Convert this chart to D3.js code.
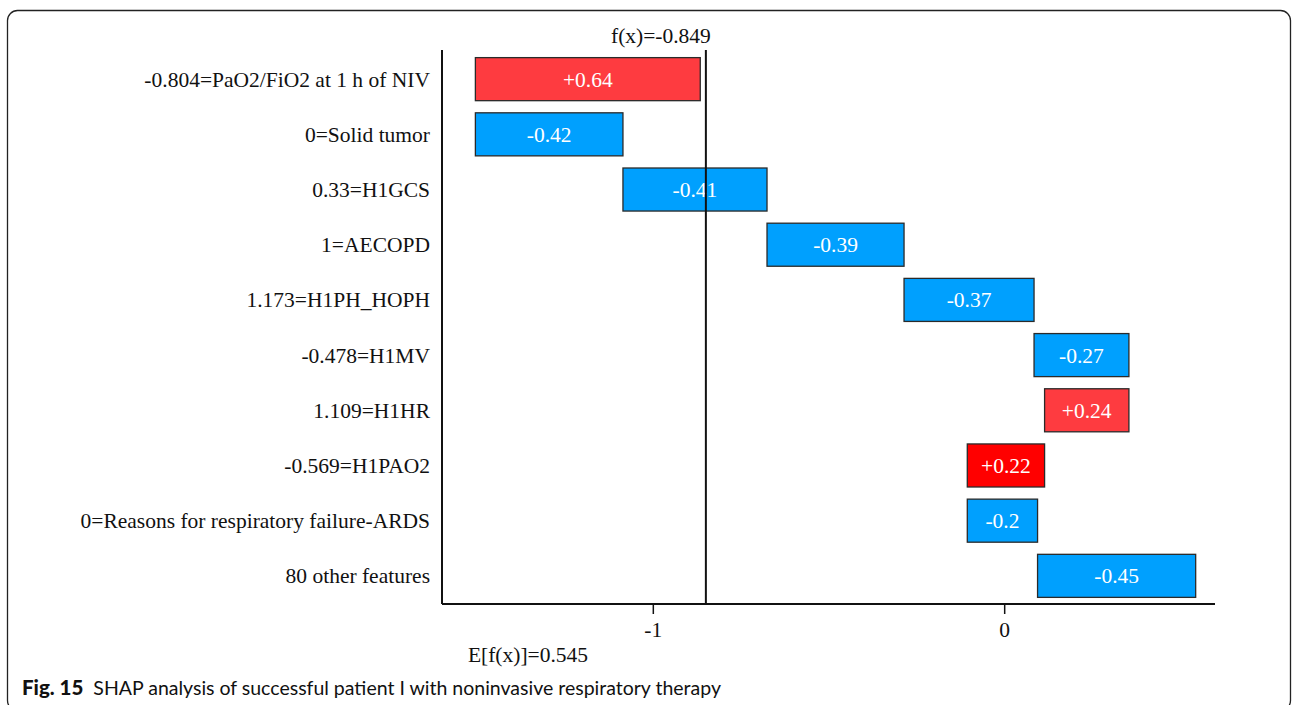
<!DOCTYPE html>
<html>
<head>
<meta charset="utf-8">
<script src="https://cdn.jsdelivr.net/npm/d3@7"></script>
<style>
  html, body { margin: 0; padding: 0; background: #fff; }
  svg { display: block; }
</style>
</head>
<body>
<svg id="chart" width="1292" height="705"></svg>
<script>
// Feature labels, top to bottom
const features = [
  "-0.804=PaO2/FiO2 at 1 h of NIV",
  "0=Solid tumor",
  "0.33=H1GCS",
  "1=AECOPD",
  "1.173=H1PH_HOPH",
  "-0.478=H1MV",
  "1.109=H1HR",
  "-0.569=H1PAO2",
  "0=Reasons for respiratory failure-ARDS",
  "80 other features"
];
// SHAP contribution of each feature (same order)
const shapValues = [0.64, -0.42, -0.41, -0.39, -0.37, -0.27, 0.24, 0.22, -0.2, -0.45];
// Bar fill per feature
const barColors = ["#fe3b40", "#00a0fe", "#00a0fe", "#00a0fe", "#00a0fe", "#00a0fe", "#fe3b40", "#ff0000", "#00a0fe", "#00a0fe"];
const baseValue = 0.545;   // E[f(x)]
const outputValue = -0.849; // f(x)
const xTicks = [-1, 0];

const svg = d3.select("#chart");
const serif = "'Liberation Serif', 'Times New Roman', serif";
const fontSize = 21.5;

// Figure frame
svg.append("rect")
  .attr("x", 7.5).attr("y", 10.5)
  .attr("width", 1283).attr("height", 700)
  .attr("rx", 10).attr("ry", 10)
  .attr("fill", "none").attr("stroke", "#222").attr("stroke-width", 1.3);

const x = d3.scaleLinear().domain([-1.6, 0.6]).range([442, 1215]);
const y = d3.scaleBand().domain(features).range([51, 604])
  .paddingInner(0.22).paddingOuter(0.12);

// Cumulative positions: start at E[f(x)] at the bottom and accumulate upward
const rows = [];
let acc = baseValue;
for (let i = features.length - 1; i >= 0; i--) {
  const start = acc;
  const end = acc + shapValues[i];
  rows[i] = { name: features[i], value: shapValues[i], start, end, color: barColors[i] };
  acc = end;
}

// Bars
const g = svg.append("g");
g.selectAll("rect.bar").data(rows).join("rect")
  .attr("class", "bar")
  .attr("x", d => x(Math.min(d.start, d.end)))
  .attr("y", d => y(d.name))
  .attr("width", d => Math.abs(x(d.end) - x(d.start)))
  .attr("height", y.bandwidth())
  .attr("fill", d => d.color)
  .attr("stroke", "#2a2a2a")
  .attr("stroke-width", 1.3);

// Value labels inside bars
const fmt = v => (v > 0 ? "+" : "") + String(v);
g.selectAll("text.val").data(rows).join("text")
  .attr("class", "val")
  .attr("x", d => (x(d.start) + x(d.end)) / 2)
  .attr("y", d => y(d.name) + y.bandwidth() / 2)
  .attr("dy", "0.35em")
  .attr("text-anchor", "middle")
  .attr("font-family", serif)
  .attr("font-size", fontSize)
  .attr("fill", "#fff")
  .text(d => fmt(d.value));

// Feature names on the left
svg.append("g").selectAll("text").data(features).join("text")
  .attr("x", 430)
  .attr("y", d => y(d) + y.bandwidth() / 2)
  .attr("dy", "0.35em")
  .attr("text-anchor", "end")
  .attr("font-family", serif)
  .attr("font-size", fontSize)
  .attr("fill", "#111")
  .text(d => d);

// Left spine
svg.append("line")
  .attr("x1", 442).attr("x2", 442).attr("y1", 50).attr("y2", 604)
  .attr("stroke", "#111").attr("stroke-width", 2);

// Bottom axis
const xAxis = d3.axisBottom(x).tickValues(xTicks).tickFormat(d => String(d)).tickSize(10).tickPadding(8);
const ax = svg.append("g").attr("transform", "translate(0,604)").call(xAxis);
ax.select(".domain").attr("d", `M${x.range()[0]},0H${x.range()[1]}`).attr("stroke", "#111").attr("stroke-width", 2);
ax.selectAll(".tick line").attr("stroke", "#111").attr("stroke-width", 1.5);
ax.selectAll(".tick text").attr("font-family", serif).attr("font-size", fontSize).attr("fill", "#111");

// f(x) marker line
svg.append("line")
  .attr("x1", x(outputValue)).attr("x2", x(outputValue))
  .attr("y1", 50).attr("y2", 604)
  .attr("stroke", "#111").attr("stroke-width", 2);
svg.append("text")
  .attr("x", x(outputValue) + 5).attr("y", 43)
  .attr("text-anchor", "end")
  .attr("font-family", serif).attr("font-size", fontSize).attr("fill", "#111")
  .text("f(x)=" + outputValue);

svg.append("text")
  .attr("x", 528).attr("y", 662)
  .attr("text-anchor", "middle")
  .attr("font-family", serif).attr("font-size", fontSize).attr("fill", "#111")
  .text("E[f(x)]=" + baseValue);

// Caption
const cap = svg.append("text")
  .attr("x", 22).attr("y", 695)
  .attr("font-family", "Lato, 'Open Sans', sans-serif")
  .attr("font-size", 19.5).attr("fill", "#111");
cap.append("tspan").attr("font-weight", "900").attr("font-size", 20.5).text("Fig. 15");
cap.append("tspan").attr("dx", 10).text("SHAP analysis of successful patient I with noninvasive respiratory therapy");
</script>
</body>
</html>
